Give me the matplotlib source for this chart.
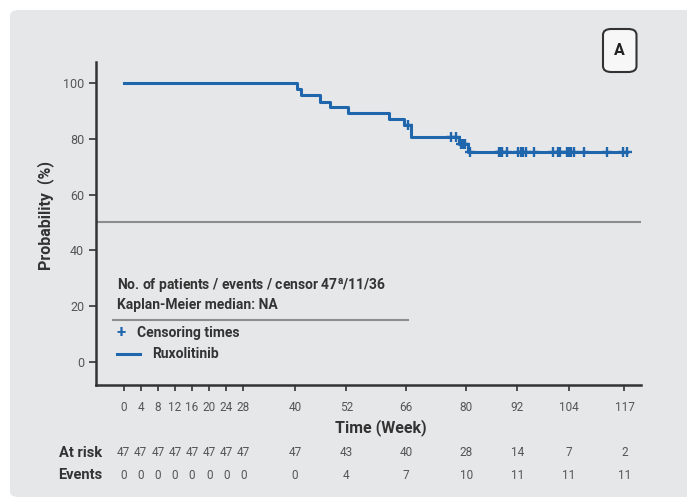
import matplotlib
matplotlib.use("Agg")
import matplotlib.pyplot as plt
import matplotlib.transforms as mtransforms
from matplotlib.patches import FancyBboxPatch
import numpy as np

plt.rcParams['font.family'] = ['Roboto', 'DejaVu Sans']
plt.rcParams['mathtext.fontset'] = 'custom'
plt.rcParams['mathtext.rm'] = 'Roboto'
plt.rcParams['mathtext.bf'] = 'Roboto:bold'

# KM curve
event_times = [0, 40.4, 41.4, 45.9, 48.1, 52.5, 62.1, 65.5, 67.1, 78.3, 80.4]
surv = [100, 97.8, 95.6, 93.4, 91.4, 89.4, 87.2, 85.1, 80.8, 78.2, 75.3]
censor_times = [66.4, 76.4, 77.6, 78.7, 79.2, 79.7, 80.9, 87.7, 88.1, 88.5, 89.5,
                92.2, 92.8, 93.4, 93.9, 95.9, 100.4, 101.5, 101.9, 103.6, 104.1,
                104.6, 105.2, 107.6, 113.0, 116.6, 117.5]
last_time = 117.5

xticks = [0, 4, 8, 12, 16, 20, 24, 28, 40, 52, 66, 80, 92, 104, 117]
at_risk = [47, 47, 47, 47, 47, 47, 47, 47, 47, 43, 40, 28, 14, 7, 2]
events = [0, 0, 0, 0, 0, 0, 0, 0, 0, 4, 7, 10, 11, 11, 11]

blue = '#1f66ad'
dark = '#333333'
grey_txt = '#555555'
bg = '#e6e7e9'

fig = plt.figure(figsize=(6.87, 4.98), dpi=100)
fig.patch.set_facecolor('white')

W, H = 687.0, 498.0
fx = lambda px: px / W
fy = lambda py: 1 - py / H

panel = FancyBboxPatch((10 / W, 1 - 497 / H), 700 / W, 487 / H,
                       boxstyle="round,pad=0,rounding_size=0.012",
                       transform=fig.transFigure, facecolor=bg, edgecolor='none',
                       zorder=-5)
fig.patches.append(panel)

ax = fig.add_axes([96 / W, 1 - 384.7 / H, (640.6 - 96) / W, (384.7 - 62) / H])
ax.set_zorder(2)
ax.set_facecolor('none')
ax.set_xlim(-6.45, 120.77)
ax.set_ylim(-8.3, 107.6)

for s in ['top', 'right']:
    ax.spines[s].set_visible(False)
for s in ['left', 'bottom']:
    ax.spines[s].set_color(dark)
    ax.spines[s].set_linewidth(1.8)

# median reference line
ax.axhline(50, color='#8c8c8c', lw=1.5, zorder=1)

# step curve
xs = event_times + [last_time]
ys = surv + [surv[-1]]
ax.step(xs, ys, where='post', color=blue, lw=2.2, zorder=3)

# censor marks at the curve level
idx = np.searchsorted(event_times, censor_times, side='right') - 1
cy = [surv[i] for i in idx]
ax.plot(censor_times, cy, linestyle='none', marker='+', color=blue,
        markersize=7.5, markeredgewidth=1.7, zorder=4)

ax.set_yticks([0, 20, 40, 60, 80, 100])
ax.set_xticks(xticks)
ax.tick_params(axis='y', length=5, width=1.2, color=dark, pad=3.5,
               labelsize=9, labelcolor=grey_txt)
ax.tick_params(axis='x', length=4.5, width=1.2, color=dark, pad=7,
               labelsize=8.5, labelcolor=grey_txt)

ax.set_ylabel('Probability  (%)', fontsize=11.5, fontweight='bold', color=dark)
ax.set_xlabel('Time (Week)', fontsize=11.5, fontweight='bold', color=dark)
ax.yaxis.set_label_coords(-0.078, 0.524)
ax.xaxis.set_label_coords(0.5226, -0.106)

# legend-like block
fig.text(fx(117), fy(286.5), r'No. of patients / events / censor 47$^{\mathbf{a}}$/11/36',
         fontsize=10, fontweight='bold', color=dark, va='center', ha='left')
fig.text(fx(117), fy(305.5), 'Kaplan-Meier median: NA',
         fontsize=10, fontweight='bold', color=dark, va='center', ha='left')
fig.add_artist(plt.Line2D([fx(112.7), fx(407.7)], [fy(320.3), fy(320.3)],
                          color='#8c8c8c', lw=1.5, transform=fig.transFigure))
fig.text(fx(121), fy(332.5), '+', fontsize=12, fontweight='bold', color=blue,
         va='center', ha='center')
fig.text(fx(136.7), fy(332.5), 'Censoring times', fontsize=10,
         fontweight='bold', color=dark, va='center', ha='left')
fig.add_artist(plt.Line2D([fx(117.3), fx(140)], [fy(354.3), fy(354.3)],
                          color=blue, lw=2.2, transform=fig.transFigure))
fig.text(fx(151.7), fy(354.3), 'Ruxolitinib', fontsize=10,
         fontweight='bold', color=dark, va='center', ha='left')

# panel label box
abox = FancyBboxPatch((603 / W, 1 - 72 / H), 33.5 / W, 43 / H,
                      boxstyle="round,pad=0,rounding_size=0.012",
                      transform=fig.transFigure, facecolor='#f7f7f7',
                      edgecolor=dark, lw=1.5)
fig.patches.append(abox)
fig.text(fx(619.8), fy(50.5), 'A', fontsize=11.5, fontweight='bold', color='#222222',
         ha='center', va='center')

# risk table
trans = mtransforms.blended_transform_factory(ax.transData, fig.transFigure)
for x, r, e in zip(xticks, at_risk, events):
    ax.text(x, fy(452.7), str(r), transform=trans, ha='center', va='center',
            fontsize=8.5, color=grey_txt, clip_on=False)
    ax.text(x, fy(475), str(e), transform=trans, ha='center', va='center',
            fontsize=8.5, color=grey_txt, clip_on=False)
fig.text(fx(102), fy(452.7), 'At risk', fontsize=10.5, fontweight='bold',
         color=dark, ha='right', va='center')
fig.text(fx(102), fy(475), 'Events', fontsize=10.5, fontweight='bold',
         color=dark, ha='right', va='center')

fig.savefig('out.png', dpi=100, facecolor='white')
